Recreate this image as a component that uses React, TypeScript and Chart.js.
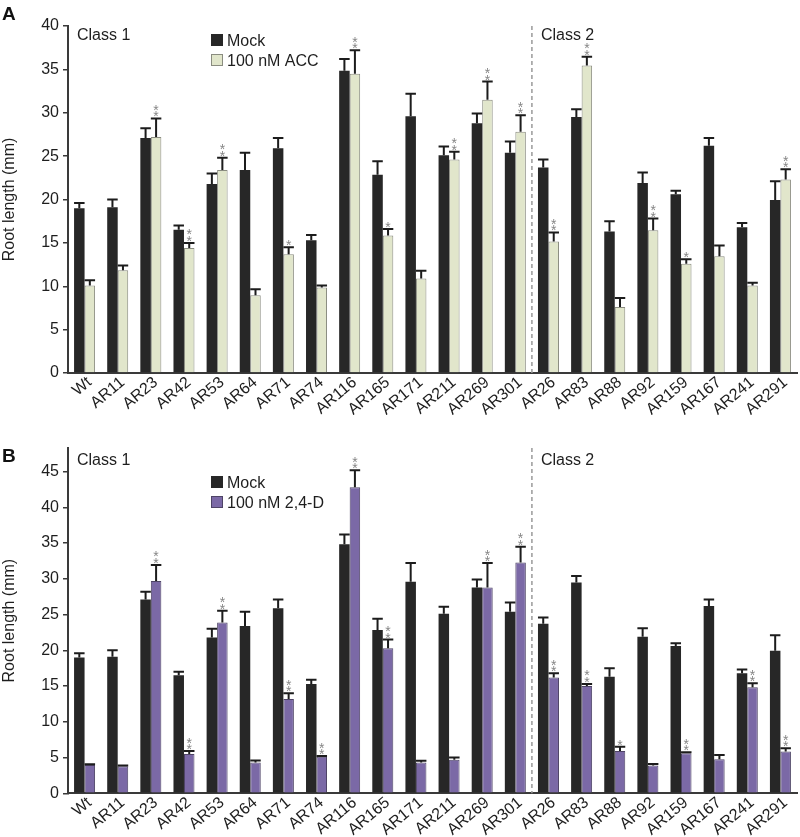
import React, { useEffect, useRef } from "react";
import { Chart, registerables } from "chart.js";

Chart.register(...registerables);

const categories = [
  "Wt", "AR11", "AR23", "AR42", "AR53", "AR64", "AR71", "AR74", "AR116", "AR165", "AR171",
  "AR211", "AR269", "AR301", "AR26", "AR83", "AR88", "AR92", "AR159", "AR167", "AR241", "AR291",
];

const mockValues = [19.0, 19.1, 27.1, 16.5, 21.8, 23.4, 25.9, 15.3, 34.85, 22.85, 29.6, 25.1, 28.8, 25.4, 23.7, 29.5, 16.3, 21.9, 20.6, 26.2, 16.8, 19.95];
const mockErrors = [0.6, 0.9, 1.1, 0.5, 1.2, 2.0, 1.2, 0.6, 1.35, 1.55, 2.6, 1.0, 1.1, 1.3, 0.9, 0.9, 1.2, 1.2, 0.4, 0.9, 0.5, 2.15];

const accValues = [10.1, 11.85, 27.2, 14.4, 23.4, 8.95, 13.7, 9.85, 34.5, 15.85, 10.9, 24.6, 31.5, 27.8, 15.15, 35.45, 7.6, 16.45, 12.6, 13.45, 10.1, 22.3];
const accErrors = [0.6, 0.55, 2.15, 0.6, 1.4, 0.7, 0.8, 0.25, 2.7, 0.75, 0.9, 0.9, 2.1, 1.9, 1.05, 1.0, 1.05, 1.35, 0.5, 1.25, 0.3, 1.2];
const accSignif = ["", "", "**", "**", "**", "", "*", "", "**", "*", "", "**", "**", "**", "**", "**", "", "**", "*", "", "", "**"];

const d24Values = [3.95, 3.8, 29.7, 5.5, 23.9, 4.3, 13.2, 5.1, 42.8, 20.3, 4.3, 4.7, 28.8, 32.3, 16.2, 15.0, 5.9, 3.9, 5.6, 4.75, 14.85, 5.85];
const d24Errors = [0.1, 0.1, 2.25, 0.4, 1.65, 0.3, 0.8, 0.1, 2.4, 1.2, 0.25, 0.3, 3.4, 2.2, 0.6, 0.3, 0.6, 0.2, 0.15, 0.6, 0.55, 0.45];
const d24Signif = ["", "", "**", "**", "**", "", "**", "**", "**", "**", "", "", "**", "**", "**", "**", "*", "", "**", "", "**", "**"];

const yTicksA = [0, 5, 10, 15, 20, 25, 30, 35, 40];
const yTicksB = [0, 5, 10, 15, 20, 25, 30, 35, 40, 45];

const FONT = "'Liberation Sans', Arial, Helvetica, sans-serif";
const MOCK_COLOR = "#272727";
const TEXT_COLOR = "#1e1e1e";
const AXIS_COLOR = "#3a3a3a";

type PanelProps = {
  top: number;
  height: number;
  letter: string;
  letterY: number;
  classY: number;
  legendY: number;
  yMax: number;
  yTicks: number[];
  padTop: number;
  xHeight: number;
  treatLabel: string;
  treatValues: number[];
  treatErrors: number[];
  treatSignif: string[];
  treatColor: string;
  treatBorder: string;
};

function Panel(props: PanelProps) {
  const ref = useRef<HTMLCanvasElement>(null);

  useEffect(() => {
    const canvas = ref.current;
    if (!canvas) return;

    const overlay = {
      id: "overlay",
      afterDatasetsDraw(chart: any) {
        const ctx = chart.ctx as CanvasRenderingContext2D;
        const { left, top, bottom } = chart.chartArea;
        const xs = chart.scales.x;
        const ys = chart.scales.y;
        ctx.save();

        const series = [
          { vals: mockValues, errs: mockErrors, sig: null as string[] | null },
          { vals: props.treatValues, errs: props.treatErrors, sig: props.treatSignif },
        ];
        series.forEach((s, di) => {
          const meta = chart.getDatasetMeta(di);
          meta.data.forEach((el: any, i: number) => {
            const x = el.x;
            const w = el.width;
            const yb = ys.getPixelForValue(s.vals[i]);
            const yt = ys.getPixelForValue(s.vals[i] + s.errs[i]);
            ctx.strokeStyle = "#1c1c1c";
            ctx.lineWidth = 2;
            ctx.beginPath();
            ctx.moveTo(x, yb);
            ctx.lineTo(x, yt);
            ctx.moveTo(x - w / 2, yt);
            ctx.lineTo(x + w / 2, yt);
            ctx.stroke();
            if (s.sig && s.sig[i]) {
              ctx.fillStyle = "#858585";
              ctx.font = `14px ${FONT}`;
              ctx.textAlign = "center";
              ctx.textBaseline = "alphabetic";
              for (let k = 0; k < s.sig[i].length; k++) {
                ctx.fillText("*", x, yt + 3 - k * 6.5);
              }
            }
          });
        });

        // separator between class 1 and class 2
        const sepX = (xs.getPixelForValue(13) + xs.getPixelForValue(14)) / 2;
        ctx.strokeStyle = "#9a9a9a";
        ctx.lineWidth = 1.5;
        ctx.setLineDash([4, 3]);
        ctx.beginPath();
        ctx.moveTo(sepX, top);
        ctx.lineTo(sepX, bottom);
        ctx.stroke();
        ctx.setLineDash([]);

        // class labels
        ctx.fillStyle = TEXT_COLOR;
        ctx.font = `16px ${FONT}`;
        ctx.textAlign = "left";
        ctx.textBaseline = "alphabetic";
        ctx.fillText("Class 1", left + 9, props.classY);
        ctx.fillText("Class 2", sepX + 9, props.classY);

        // legend
        const lx = 211;
        const items = [
          { label: "Mock", fill: MOCK_COLOR, stroke: MOCK_COLOR },
          { label: props.treatLabel, fill: props.treatColor, stroke: props.treatBorder },
        ];
        items.forEach((it, k) => {
          const y0 = props.legendY + k * 20;
          ctx.fillStyle = it.fill;
          ctx.fillRect(lx, y0, 12, 12);
          ctx.strokeStyle = it.stroke;
          ctx.lineWidth = 1;
          ctx.strokeRect(lx + 0.5, y0 + 0.5, 11, 11);
          ctx.fillStyle = TEXT_COLOR;
          ctx.font = `16px ${FONT}`;
          ctx.fillText(it.label, lx + 16, y0 + 12);
        });

        // panel letter
        ctx.fillStyle = "#111";
        ctx.font = `bold 19px ${FONT}`;
        ctx.fillText(props.letter, 2, props.letterY);

        ctx.restore();
      },
    };

    const chart = new Chart(canvas, {
      type: "bar",
      data: {
        labels: categories,
        datasets: [
          {
            label: "Mock",
            data: mockValues,
            backgroundColor: MOCK_COLOR,
            borderColor: MOCK_COLOR,
            borderWidth: 0,
          },
          {
            label: props.treatLabel,
            data: props.treatValues,
            backgroundColor: props.treatColor,
            borderColor: props.treatBorder,
            borderWidth: 1,
          },
        ],
      },
      options: {
        responsive: false,
        animation: false,
        events: [],
        layout: { padding: { top: props.padTop, right: 3, left: 0, bottom: 0 } },
        plugins: {
          legend: { display: false },
          tooltip: { enabled: false },
        },
        datasets: {
          bar: { categoryPercentage: 0.634, barPercentage: 1.0 },
        },
        scales: {
          x: {
            grid: { display: false, drawTicks: false },
            border: { display: true, color: AXIS_COLOR, width: 2 },
            ticks: {
              autoSkip: false,
              maxRotation: 40,
              minRotation: 40,
              padding: 0,
              labelOffset: 5,
              color: TEXT_COLOR,
              font: { family: FONT, size: 16 },
            },
            afterFit: (scale: any) => {
              scale.height = props.xHeight;
            },
          },
          y: {
            min: 0,
            max: props.yMax,
            grid: { display: true, drawOnChartArea: false, drawTicks: true, tickLength: 5, color: AXIS_COLOR, lineWidth: 1.5 },
            border: { display: true, color: AXIS_COLOR, width: 2 },
            ticks: {
              padding: 4,
              color: TEXT_COLOR,
              font: { family: FONT, size: 16 },
            },
            afterBuildTicks: (scale: any) => {
              scale.ticks = props.yTicks.map((v) => ({ value: v }));
            },
            afterFit: (scale: any) => {
              scale.width = 68;
            },
            title: {
              display: true,
              text: "Root length (mm)",
              color: TEXT_COLOR,
              font: { family: FONT, size: 16 },
              padding: 0,
            },
          },
        },
      },
      plugins: [overlay],
    } as any);

    return () => chart.destroy();
  }, []);

  return (
    <canvas
      ref={ref}
      width={800}
      height={props.height}
      style={{ position: "absolute", left: 0, top: props.top, width: 800, height: props.height }}
    />
  );
}

export default function App() {
  return (
    <div style={{ position: "absolute", left: 0, top: 0, width: 800, height: 837, background: "#fff" }}>
      <Panel
        top={0}
        height={415}
        letter="A"
        letterY={20}
        classY={40}
        legendY={34}
        yMax={40}
        yTicks={yTicksA}
        padTop={26}
        xHeight={42}
        treatLabel="100 nM ACC"
        treatValues={accValues}
        treatErrors={accErrors}
        treatSignif={accSignif}
        treatColor="#e1e6cb"
        treatBorder="#8a8c80"
      />
      <Panel
        top={415}
        height={422}
        letter="B"
        letterY={47}
        classY={50}
        legendY={61}
        yMax={48.3}
        yTicks={yTicksB}
        padTop={33}
        xHeight={43.7}
        treatLabel="100 nM 2,4-D"
        treatValues={d24Values}
        treatErrors={d24Errors}
        treatSignif={d24Signif}
        treatColor="#7b69a6"
        treatBorder="#4e4466"
      />
    </div>
  );
}
